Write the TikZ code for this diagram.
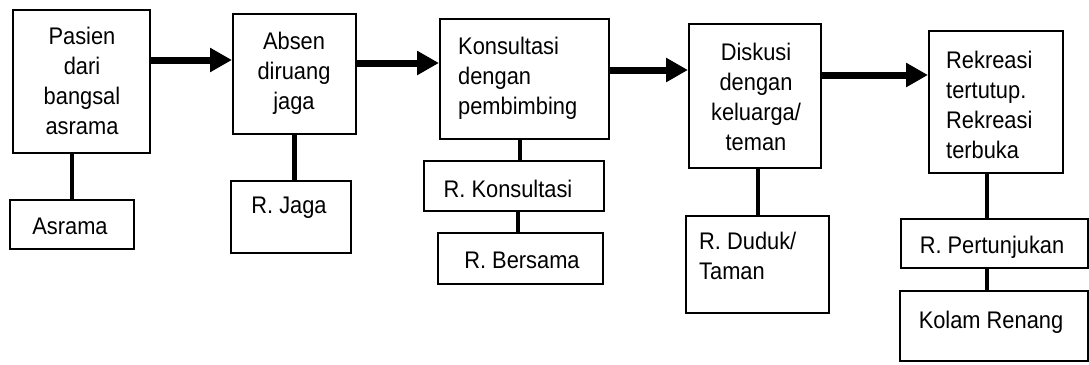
\documentclass[tikz,border=0pt]{standalone}
\usepackage{fontspec}
\setmainfont{Liberation Sans}[FakeStretch=0.91]
\usetikzlibrary{arrows.meta}
\begin{document}
\begin{tikzpicture}[x=1pt,y=-1pt,
  box/.style={draw=black, line width=1.5pt, anchor=north west, inner sep=0pt},
  txt/.style={inner sep=0pt, font=\fontsize{24}{30}\selectfont},
  flow/.style={line width=7pt, -{Triangle[length=22pt,width=23pt]}},
  link/.style={line width=4.5pt}]
\useasboundingbox (0,0) rectangle (1089,364);
% boxes
\node[box, minimum width=137pt, minimum height=143pt] (b1) at (12,9) {};
\node[box, minimum width=124pt, minimum height=49pt] (a1) at (9,199) {};
\node[box, minimum width=123pt, minimum height=120pt] (b2) at (232,13) {};
\node[box, minimum width=120pt, minimum height=72pt] (rj) at (230,180) {};
\node[box, minimum width=169pt, minimum height=120pt] (b3) at (439,18) {};
\node[box, minimum width=180pt, minimum height=50pt] (rk) at (423,160) {};
\node[box, minimum width=165pt, minimum height=51pt] (rb) at (437,232) {};
\node[box, minimum width=132pt, minimum height=144pt] (b4) at (688,23) {};
\node[box, minimum width=143pt, minimum height=97pt] (rd) at (685,215) {};
\node[box, minimum width=134pt, minimum height=142pt] (b5) at (928,30) {};
\node[box, minimum width=187pt, minimum height=49pt] (rp) at (900,218) {};
\node[box, minimum width=188pt, minimum height=70pt] (kr) at (899,290) {};
% texts
\node[txt, align=center] (t1) at (82,81) {Pasien\\dari\\bangsal\\asrama};
\node[txt] (ta1) at (70,226) {Asrama};
\node[txt, align=center] (t2) at (294,73) {Absen\\diruang\\jaga};
\node[txt] (trj) at (289,208) {R. Jaga};
\node[txt, align=left, anchor=west] (t3) at (458,78) {Konsultasi\\dengan\\pembimbing};
\node[txt] (trk) at (508,189) {R. Konsultasi};
\node[txt] (trb) at (522,260) {R. Bersama};
\node[txt, align=center] (t4) at (756,97) {Diskusi\\dengan\\keluarga/\\teman};
\node[txt, align=left, anchor=west] (trd) at (699,256) {R. Duduk/\\Taman};
\node[txt, align=left, anchor=west] (t5) at (946,105) {Rekreasi\\tertutup.\\Rekreasi\\terbuka};
\node[txt] (trp) at (992,247) {R. Pertunjukan};
\node[txt] (tkr) at (991,322) {Kolam Renang};
% flow arrows
\draw[flow] (b1.east |- 0,60) -- (b2.west |- 0,60);
\draw[flow] (b2.east |- 0,63) -- (b3.west |- 0,63);
\draw[flow] (b3.east |- 0,70) -- (b4.west |- 0,70);
\draw[flow] (b4.east |- 0,75) -- (b5.west |- 0,75);
% vertical links
\draw[link] (a1.north |- b1.south) -- (a1.north);
\draw[link] (b2.south) -- (b2.south |- rj.north);
\draw[link] (b3.south -| 520,0) -- (rk.north -| 520,0);
\draw[link] (rk.south -| 518,0) -- (rb.north -| 518,0);
\draw[link] (b4.south -| 758,0) -- (rd.north -| 758,0);
\draw[link] (b5.south -| 987,0) -- (rp.north -| 987,0);
\draw[link] (rp.south -| 987,0) -- (kr.north -| 987,0);
\end{tikzpicture}
\end{document}
